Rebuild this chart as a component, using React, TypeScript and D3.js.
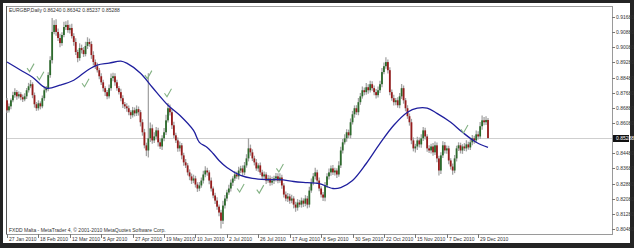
import React from "react";
import * as d3 from "d3";

const W = 634;
const H = 248;

const chartTitle = "EURGBP,Daily  0.86240 0.86342 0.85237 0.85288";
const footerText = "FXDD Malta - MetaTrader 4, \u00a9 2001-2010 MetaQuotes Software Corp.";

const dateLabels = [
  "27 Jan 2010", "18 Feb 2010", "12 Mar 2010", "5 Apr 2010", "27 Apr 2010", "19 May 2010",
  "10 Jun 2010", "2 Jul 2010", "26 Jul 2010", "17 Aug 2010", "8 Sep 2010", "30 Sep 2010",
  "22 Oct 2010", "15 Nov 2010", "7 Dec 2010", "29 Dec 2010",
];
const dateLabelIndex = [0, 16, 32, 48, 64, 80, 96, 112, 128, 144, 160, 176, 192, 208, 224, 240];

const priceTicks = [
  0.9168, 0.9088, 0.9008, 0.8928, 0.8848, 0.8768, 0.8688, 0.8608,
  0.8448, 0.8368, 0.8288, 0.8208, 0.8128, 0.8048,
];
const lastPrice = 0.85288;

const firstOpen = 0.8728;
const closes = [
  0.8675, 0.8696, 0.8728, 0.8755, 0.8771, 0.8749, 0.8760, 0.8744, 0.8733, 0.8749,
  0.8781, 0.8802, 0.8813, 0.8755, 0.8707, 0.8686, 0.8712, 0.8696, 0.8739, 0.8781,
  0.8792, 0.8861, 0.8940, 0.9089, 0.9126, 0.9089, 0.9057, 0.9030, 0.9073, 0.9115,
  0.9126, 0.9099, 0.9110, 0.9067, 0.9036, 0.8983, 0.8951, 0.9004, 0.8993, 0.8972,
  0.9015, 0.9036, 0.9025, 0.8967, 0.8930, 0.8908, 0.8887, 0.8855, 0.8823, 0.8792,
  0.8771, 0.8749, 0.8792, 0.8845, 0.8855, 0.8823, 0.8792, 0.8771, 0.8739, 0.8707,
  0.8696, 0.8686, 0.8665, 0.8649, 0.8675, 0.8659, 0.8681, 0.8665, 0.8612, 0.8559,
  0.8490, 0.8463, 0.8527, 0.8580, 0.8516, 0.8537, 0.8569, 0.8506, 0.8484, 0.8527,
  0.8559, 0.8622, 0.8686, 0.8665, 0.8596, 0.8543, 0.8516, 0.8474, 0.8490, 0.8437,
  0.8400, 0.8384, 0.8347, 0.8326, 0.8304, 0.8315, 0.8283, 0.8262, 0.8278, 0.8304,
  0.8336, 0.8357, 0.8347, 0.8304, 0.8262, 0.8225, 0.8198, 0.8166, 0.8135, 0.8092,
  0.8172, 0.8209, 0.8241, 0.8262, 0.8293, 0.8315, 0.8336, 0.8326, 0.8357, 0.8368,
  0.8347, 0.8384, 0.8421, 0.8474, 0.8453, 0.8421, 0.8400, 0.8368, 0.8384, 0.8347,
  0.8326, 0.8336, 0.8304, 0.8315, 0.8293, 0.8304, 0.8315, 0.8326, 0.8304, 0.8320,
  0.8278, 0.8230, 0.8209, 0.8220, 0.8198, 0.8209, 0.8177, 0.8161, 0.8188, 0.8177,
  0.8198, 0.8182, 0.8209, 0.8177, 0.8251, 0.8293, 0.8326, 0.8347, 0.8304, 0.8262,
  0.8230, 0.8214, 0.8278, 0.8326, 0.8347, 0.8368, 0.8347, 0.8357, 0.8336, 0.8384,
  0.8463, 0.8506, 0.8527, 0.8559, 0.8543, 0.8612, 0.8654, 0.8686, 0.8665, 0.8718,
  0.8749, 0.8781, 0.8771, 0.8797, 0.8781, 0.8813, 0.8792, 0.8771, 0.8755, 0.8781,
  0.8813, 0.8877, 0.8908, 0.8930, 0.8887, 0.8771, 0.8739, 0.8718, 0.8728, 0.8702,
  0.8749, 0.8792, 0.8728, 0.8686, 0.8644, 0.8612, 0.8516, 0.8474, 0.8484, 0.8516,
  0.8495, 0.8527, 0.8569, 0.8537, 0.8474, 0.8463, 0.8484, 0.8453, 0.8490, 0.8421,
  0.8357, 0.8437, 0.8490, 0.8463, 0.8474, 0.8410, 0.8378, 0.8357, 0.8421, 0.8474,
  0.8490, 0.8463, 0.8484, 0.8474, 0.8495, 0.8479, 0.8506, 0.8527, 0.8516, 0.8548,
  0.8537, 0.8591, 0.8622, 0.8612, 0.8624, 0.85288,
];

// wick lengths above / below the body, in pips
const upWickPips = [
  12, 15, 10, 18, 20, 12, 15, 10, 14, 16,
  12, 18, 22, 10, 14, 12, 16, 10, 14, 20,
  12, 15, 20, 74, 25, 30, 18, 22, 15, 28,
  20, 25, 18, 22, 15, 20, 12, 25, 18, 16,
  22, 25, 18, 15, 20, 14, 18, 12, 16, 14,
  10, 12, 20, 24, 18, 16, 14, 12, 18, 15,
  12, 16, 14, 10, 18, 15, 20, 14, 12, 16,
  18, 14, 344, 30, 20, 22, 18, 14, 20, 16,
  22, 30, 28, 20, 15, 18, 14, 16, 20, 12,
  14, 18, 12, 16, 15, 20, 14, 12, 18, 16,
  20, 22, 14, 12, 16, 10, 14, 18, 12, 15,
  25, 18, 14, 20, 16, 12, 18, 15, 20, 14,
  16, 18, 22, 53, 20, 16, 14, 18, 12, 15,
  14, 16, 12, 18, 15, 20, 14, 18, 16, 22,
  14, 12, 16, 18, 14, 20, 12, 15, 18, 14,
  16, 12, 18, 14, 20, 22, 18, 25, 14, 16,
  12, 14, 18, 16, 20, 15, 18, 14, 12, 22,
  20, 18, 22, 16, 14, 20, 18, 15, 16, 22,
  18, 20, 14, 22, 16, 18, 15, 14, 16, 20,
  18, 22, 20, 26, 14, 16, 14, 18, 12, 16,
  18, 22, 14, 12, 16, 14, 18, 16, 14, 20,
  16, 22, 18, 14, 12, 16, 14, 18, 20, 15,
  14, 16, 22, 18, 15, 14, 12, 16, 18, 14,
  16, 14, 12, 18, 22, 14, 16, 18, 14, 20,
  16, 22, 25, 18, 20, 10,
];
const downWickPips = [
  14, 12, 16, 10, 14, 18, 12, 16, 14, 10,
  14, 12, 10, 16, 18, 14, 12, 16, 10, 14,
  12, 16, 14, 18, 12, 20, 16, 22, 14, 12,
  16, 14, 18, 12, 20, 16, 22, 14, 18, 15,
  12, 16, 14, 20, 18, 15, 12, 16, 14, 18,
  20, 16, 12, 14, 16, 18, 14, 12, 16, 20,
  14, 18, 16, 20, 12, 16, 14, 18, 22, 18,
  16, 30, 37, 20, 18, 14, 16, 22, 14, 18,
  16, 14, 12, 18, 20, 16, 14, 18, 16, 20,
  18, 14, 16, 20, 18, 14, 16, 18, 14, 12,
  16, 14, 18, 20, 16, 14, 18, 16, 20, 42,
  18, 16, 14, 12, 16, 18, 14, 12, 16, 14,
  18, 14, 12, 16, 18, 14, 16, 12, 18, 14,
  16, 14, 18, 12, 16, 14, 18, 16, 14, 12,
  18, 16, 14, 18, 16, 14, 20, 22, 16, 14,
  16, 18, 14, 20, 16, 12, 14, 16, 18, 14,
  16, 18, 20, 14, 16, 18, 14, 16, 18, 12,
  14, 16, 12, 18, 14, 16, 12, 18, 14, 16,
  14, 12, 16, 14, 18, 12, 14, 16, 18, 12,
  14, 16, 12, 14, 18, 16, 14, 18, 16, 14,
  16, 14, 18, 16, 14, 18, 20, 16, 22, 18,
  16, 18, 14, 16, 18, 14, 16, 18, 14, 20,
  26, 18, 14, 16, 18, 20, 16, 22, 14, 16,
  14, 16, 18, 14, 16, 12, 14, 16, 18, 14,
  16, 14, 18, 16, 14, 5,
];

// moving average, read at sample bars
const maIndex = [0, 7, 13, 20, 27, 34, 41, 46, 52, 58, 61, 68, 74, 82, 88, 95, 98, 102, 105, 108, 112, 119, 125, 132, 139, 146, 153, 159, 166, 170, 176, 183, 190, 197, 204, 209, 214, 219, 226, 232, 239, 245];
const maValue = [0.8930, 0.8887, 0.8850, 0.8792, 0.8808, 0.8834, 0.8887, 0.8914, 0.8924, 0.8935, 0.8924, 0.8871, 0.8797, 0.8702, 0.8649, 0.8569, 0.8506, 0.8479, 0.8447, 0.8410, 0.8373, 0.8331, 0.8315, 0.8309, 0.8309, 0.8299, 0.8293, 0.8288, 0.8262, 0.8267, 0.8304, 0.8394, 0.8500, 0.8596, 0.8665, 0.8686, 0.8686, 0.8659, 0.8612, 0.8559, 0.8506, 0.8479];

// hand-drawn check marks (bar index, price)
const checkIndex = [12, 17, 40, 72, 82, 119, 129, 139, 233];
const checkPrice = [0.8898, 0.8855, 0.8818, 0.8861, 0.8765, 0.8262, 0.8256, 0.8368, 0.8574];

const FONT = "'Liberation Sans', Arial, sans-serif";

export default function App() {
  const plotLeft = 6;
  const plotRight = 612;
  const plotTop = 6;
  const plotBottom = 234;

  const x = d3.scaleLinear().domain([0, 245]).range([7, 488]);
  const y = d3.scaleLinear().domain([0.8048, 0.9168]).range([229, 17]);

  const bars = closes.map((c, i) => {
    const o = i === 0 ? firstOpen : closes[i - 1];
    const hi = Math.max(o, c) + upWickPips[i] * 0.0001;
    const lo = Math.min(o, c) - downWickPips[i] * 0.0001;
    return { i, o, c, hi, lo };
  });

  const maPts: [number, number][] = maIndex.map((d, k) => [x(d), y(maValue[k])]);
  const maPath = d3.line().curve(d3.curveCatmullRom.alpha(0.5))(maPts) || "";

  const ly = Math.round(y(lastPrice)) + 0.5;

  return (
    <svg
      width={W}
      height={H}
      style={{ position: "fixed", left: 0, top: 0, display: "block" }}
      fontFamily={FONT}
    >
      <rect x={0} y={0} width={W} height={H} fill="#242424" />
      <rect x={3} y={3} width={627} height={240} fill="#ffffff" />
      {/* plot frame */}
      <rect
        x={plotLeft + 0.5}
        y={plotTop + 0.5}
        width={plotRight - plotLeft}
        height={plotBottom - plotTop}
        fill="none"
        stroke="#9a9a9a"
      />
      <line x1={plotLeft + 0.5} x2={plotLeft + 0.5} y1={plotTop} y2={plotBottom} stroke="#555" />

      {/* current price line */}
      <line x1={plotLeft + 1} x2={plotRight} y1={ly} y2={ly} stroke="#cfcfcf" />

      {/* candles */}
      {bars.map((b) => {
        const cx = x(b.i);
        const top = y(Math.max(b.o, b.c));
        const bot = y(Math.min(b.o, b.c));
        const up = b.c >= b.o;
        return (
          <g key={b.i}>
            <line x1={cx} x2={cx} y1={y(b.hi)} y2={y(b.lo)} stroke="#a4a4a4" strokeWidth={1.3} />
            <rect
              x={cx - 0.9}
              y={top}
              width={1.8}
              height={Math.max(1, bot - top)}
              fill={up ? "#2c6a2c" : "#961c1c"}
            />
          </g>
        );
      })}

      {/* moving average */}
      <path d={maPath} fill="none" stroke="#1f1f9e" strokeWidth={1.3} />

      {/* check marks */}
      {checkIndex.map((ci, k) => (
        <path
          key={k}
          transform={`translate(${x(ci)},${y(checkPrice[k])})`}
          d="M-3.5,0 L-1,3.5 L3.5,-4.5"
          fill="none"
          stroke="#84b284"
          strokeWidth={1.1}
        />
      ))}

      {/* price axis */}
      {priceTicks.map((p) => {
        const ty = Math.round(y(p)) + 0.5;
        return (
          <g key={p}>
            <line x1={plotRight} x2={plotRight + 3} y1={ty} y2={ty} stroke="#777" />
            <text x={plotRight + 4} y={ty} dy="0.35em" fontSize={5} fill="#333">
              {p.toFixed(5)}
            </text>
          </g>
        );
      })}
      <rect x={plotRight + 1} y={ly - 3.5} width={16} height={7} fill="#111" />
      <text x={plotRight + 4} y={ly} dy="0.35em" fontSize={5} fill="#fff">
        {lastPrice.toFixed(5)}
      </text>

      {/* date axis */}
      {dateLabelIndex.map((di, k) => {
        const tx = Math.round(x(di)) + 0.5;
        return (
          <g key={di}>
            <line x1={tx} x2={tx} y1={plotBottom} y2={plotBottom + 4} stroke="#777" />
            <text x={tx + 1.5} y={241} fontSize={5} fill="#333">
              {dateLabels[k]}
            </text>
          </g>
        );
      })}

      <text x={9} y={12} fontSize={5} fill="#333">
        {chartTitle}
      </text>
      <text x={9} y={232} fontSize={5} fill="#333">
        {footerText}
      </text>
    </svg>
  );
}
